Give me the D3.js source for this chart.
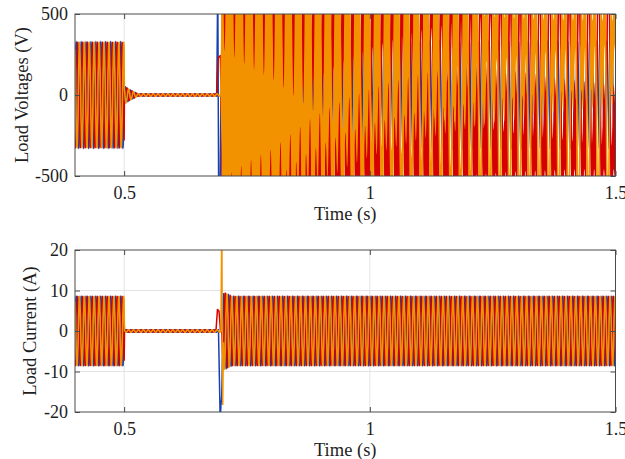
<!DOCTYPE html>
<html><head><meta charset="utf-8">
<script src="https://cdn.jsdelivr.net/npm/d3@7"></script>
<style>
body{margin:0;background:#fff}
text{font-family:"Liberation Serif","Times New Roman",serif;fill:#1e1e1e}
</style>
</head><body>
<svg id="c" width="625" height="459"></svg>
<script>
// ---------------- data ----------------
const xTickVals = [0.5, 1, 1.5];
const voltTickVals = [-500, 0, 500];
const currTickVals = [-20, -10, 0, 10, 20];
const phaseColors = ["#1440b0", "#d60000", "#f39200"];   // blue, red, orange (draw order)
const phaseDeg = [0, -120, 120];
const gridHz = 100;                                      // apparent cycle rate in the picture

// voltage: steady amplitude envelope (V)
const voltEnvT = [0.40, 0.500, 0.5005, 0.510, 0.528, 0.697, 0.700, 1.50];
const voltEnvA = [325,  325,   55,     35,    7,     7,     330,   330];
// voltage: disturbance after reconnection (red & orange), centre amplitude and band half-width (V)
const burstHz = 50;
const burstT = [0.696, 0.700, 0.75, 0.80, 0.88, 0.95, 1.00, 1.05, 1.10, 1.20, 1.30, 1.40, 1.50];
const burstC = [0,     400,   400,  400,  400,  420,  440,  460,  480,  500,  520,  540,  560];
const burstR = [0,     1000,  900,  820,  630,  520,  470,  430,  400,  350,  310,  280,  260];
const burstWeight = [0, 1, 1];
const burstDeg = [0, 0, 180];
// voltage: switching kicks per phase (time s, value V)
const voltKickT = [[0.6885, 0.6905, 0.6925, 0.6950, 0.6970], [0.6880, 0.6915, 0.6960, 0.6975], [0.6960, 0.6970]];
const voltKickV = [[0, 700, -700, -700, 0],                 [0, 235, 235, 0],                 [0, 0]];

// current: steady amplitude envelope (A)
const currEnvT = [0.40, 0.500, 0.5008, 0.697, 0.7028, 0.720, 1.50];
const currEnvA = [8.5,  8.5,   0.3,    0.3,   9.5,    8.5,   8.5];
// current: switching kicks per phase (time s, value A)
const currKickT = [[0.6920, 0.6955, 0.6985, 0.7015], [0.6870, 0.6900, 0.6930, 0.6960], [0.6970, 0.6988, 0.6996, 0.7006, 0.7022]];
const currKickV = [[0, -22, -14, 0],                 [0, 5.7, 5.0, 0],                 [0, 26, -4, -22, 0]];

// ---------------- helpers ----------------
const plotLeft = 75, plotRight = 615.5;
const x = d3.scaleLinear().domain([0.4, 1.5]).range([plotLeft, plotRight]);
const times = d3.range(0.4, 1.5 + 1e-9, 1e-4);

function kick(ts, vs, t) {
  if (t < ts[0] || t > ts[ts.length - 1]) return 0;
  return d3.scaleLinear().domain(ts).range(vs)(t);
}
const voltEnv = d3.scaleLinear().domain(voltEnvT).range(voltEnvA).clamp(true);
const currEnv = d3.scaleLinear().domain(currEnvT).range(currEnvA).clamp(true);
const bC = d3.scaleLinear().domain(burstT).range(burstC).clamp(true);
const bR = d3.scaleLinear().domain(burstT).range(burstR).clamp(true);
const rad = d => d * Math.PI / 180;
const fmt = d => String(d);

const panels = [
  {
    top: 14, bottom: 176, yDomain: [-500, 500], yTicks: voltTickVals,
    label: "Load Voltages (V)", labelX: 28,
    centre: (k, t) => {
      let v = voltEnv(t) * Math.sin(2 * Math.PI * gridHz * t + rad(phaseDeg[k]));
      v += kick(voltKickT[k], voltKickV[k], t);
      if (t >= burstT[0]) v += burstWeight[k] * bC(t) * Math.sin(2 * Math.PI * burstHz * t + rad(burstDeg[k]));
      return v;
    },
    band: (k, t) => (t >= burstT[0] ? burstWeight[k] * bR(t) : 0)
  },
  {
    top: 250, bottom: 412, yDomain: [-20, 20], yTicks: currTickVals,
    label: "Load Current (A)", labelX: 36,
    centre: (k, t) => currEnv(t) * Math.sin(2 * Math.PI * gridHz * t + rad(phaseDeg[k])) + kick(currKickT[k], currKickV[k], t),
    band: () => 0
  }
];

const svg = d3.select("#c");
const defs = svg.append("defs");

panels.forEach((p, pi) => {
  const y = d3.scaleLinear().domain(p.yDomain).range([p.bottom, p.top]);
  const g = svg.append("g");
  const cid = "clip" + pi;
  defs.append("clipPath").attr("id", cid).append("rect")
    .attr("x", plotLeft).attr("y", p.top).attr("width", plotRight - plotLeft).attr("height", p.bottom - p.top);

  g.append("g").selectAll("line").data(xTickVals.filter(v => v < 1.5)).join("line")
    .attr("x1", d => x(d)).attr("x2", d => x(d)).attr("y1", p.top).attr("y2", p.bottom)
    .attr("stroke", "#e3e3e3").attr("stroke-width", 1);
  g.append("g").selectAll("line").data(p.yTicks.filter(v => v > p.yDomain[0] && v < p.yDomain[1])).join("line")
    .attr("x1", plotLeft).attr("x2", plotRight).attr("y1", d => y(d)).attr("y2", d => y(d))
    .attr("stroke", "#e3e3e3").attr("stroke-width", 1);

  const dg = g.append("g").attr("clip-path", `url(#${cid})`);
  [0, 1, 2].forEach(k => {
    const series = times.map(t => ({ t, c: p.centre(k, t), r: p.band(k, t) }));
    if (series.some(d => d.r > 0)) {
      dg.append("path").datum(series)
        .attr("d", d3.area().x(d => x(d.t)).y0(d => y(d.c - d.r)).y1(d => y(d.c + d.r)))
        .attr("fill", phaseColors[k]);
    }
    dg.append("path").datum(series)
      .attr("d", d3.line().x(d => x(d.t)).y(d => y(d.c)))
      .attr("fill", "none").attr("stroke", phaseColors[k]).attr("stroke-width", 1.5);
  });

  const ax = g.append("g");
  ax.append("g").attr("transform", `translate(0,${p.bottom})`)
    .call(d3.axisBottom(x).tickValues(xTickVals).tickSize(-5).tickPadding(10).tickFormat(fmt));
  ax.append("g").attr("transform", `translate(0,${p.top})`)
    .call(d3.axisTop(x).tickValues(xTickVals).tickSize(-5).tickFormat(""));
  ax.append("g").attr("transform", `translate(${plotLeft},0)`)
    .call(d3.axisLeft(y).tickValues(p.yTicks).tickSize(-5).tickPadding(7).tickFormat(fmt));
  ax.append("g").attr("transform", `translate(${plotRight},0)`)
    .call(d3.axisRight(y).tickValues(p.yTicks).tickSize(-5).tickFormat(""));
  ax.selectAll(".domain").remove();
  ax.selectAll(".tick line").attr("stroke", "#4a4a4a");
  ax.selectAll(".tick text").attr("font-size", 18).attr("fill", "#1e1e1e")
    .attr("font-family", '"Liberation Serif","Times New Roman",serif');

  g.append("rect").attr("x", plotLeft).attr("y", p.top)
    .attr("width", plotRight - plotLeft).attr("height", p.bottom - p.top)
    .attr("fill", "none").attr("stroke", "#4a4a4a").attr("stroke-width", 1);

  g.append("text").attr("x", (plotLeft + plotRight) / 2).attr("y", p.bottom + 44)
    .attr("text-anchor", "middle").attr("font-size", 18.5).text("Time (s)");
  g.append("text").attr("transform", `translate(${p.labelX},${(p.top + p.bottom) / 2}) rotate(-90)`)
    .attr("text-anchor", "middle").attr("font-size", 18.5).text(p.label);
});
</script>
</body></html>
